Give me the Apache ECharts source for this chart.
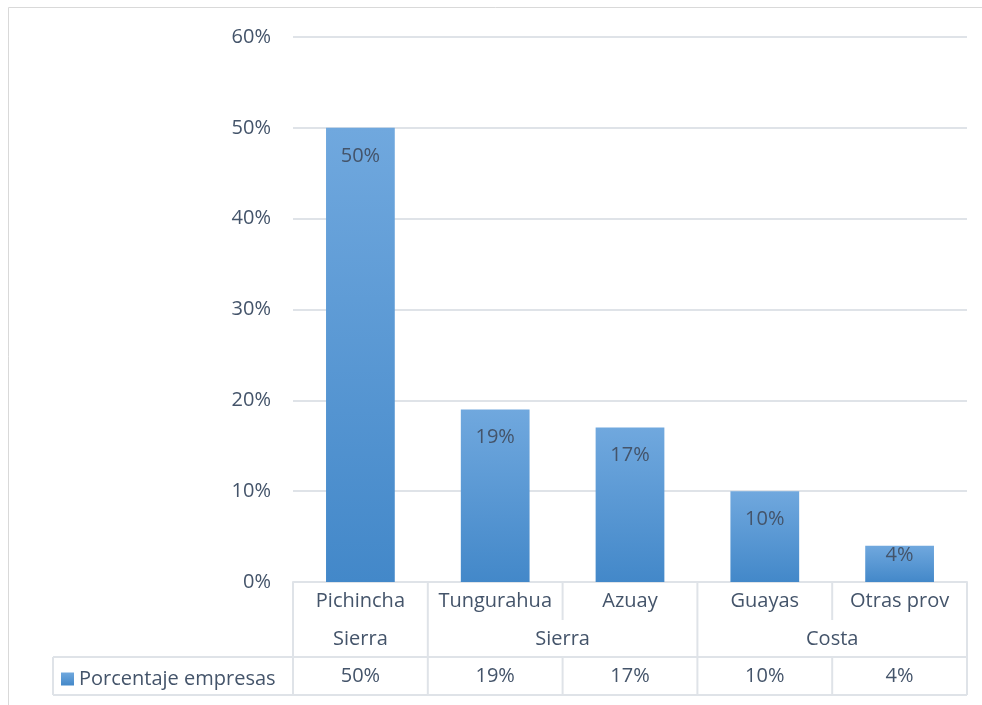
<!DOCTYPE html>
<html><head><meta charset="utf-8">
<script src="https://cdn.jsdelivr.net/npm/echarts@6/dist/echarts.min.js"></script>
<style>html,body{margin:0;padding:0;background:#fff}#c{width:982px;height:705px}</style>
</head><body><div id="c"></div>
<script>
const provinces = ['Pichincha', 'Tungurahua', 'Azuay', 'Guayas', 'Otras prov'];
const regionLabels = ['Sierra', 'Sierra', 'Costa'];
const regionSpans = [1, 2, 2];
const values = [50, 19, 17, 10, 4];
const seriesName = 'Porcentaje empresas';
const yTickValues = [0, 10, 20, 30, 40, 50, 60];

const FONT = 'Open Sans';
const TXT = '#44546a';
const LINE = '#dfe3e8';
const FS = 20;

const chart = echarts.init(document.getElementById('c'), null, {renderer: 'canvas'});
chart.setOption({
  animation: false,
  textStyle: {fontFamily: FONT},
  grid: {left: 293, right: 15, top: 37, bottom: 123},
  legend: {
    data: [seriesName], left: 56, top: 664, itemWidth: 13, itemHeight: 13, itemGap: 5,
    icon: 'rect', textStyle: {fontSize: FS, color: TXT, fontFamily: FONT}
  },
  xAxis: {
    type: 'category', data: provinces,
    axisLine: {show: true, lineStyle: {color: LINE, width: 2}},
    axisTick: {show: false},
    axisLabel: {fontSize: FS, color: TXT, margin: 9, fontFamily: FONT, interval: 0, hideOverlap: false}
  },
  yAxis: {
    type: 'value', min: yTickValues[0], max: yTickValues[yTickValues.length - 1], interval: 10,
    axisLine: {show: false}, axisTick: {show: false},
    splitLine: {lineStyle: {color: LINE, width: 2}},
    axisLabel: {fontSize: FS, color: TXT, margin: 22, formatter: '{value}%', fontFamily: FONT}
  },
  series: [{
    name: seriesName, type: 'bar', barWidth: '51%',
    itemStyle: {color: new echarts.graphic.LinearGradient(0, 0, 0, 1, [
      {offset: 0, color: '#70a8de'}, {offset: 1, color: '#4388c9'}])},
    label: {show: true, position: 'insideTop', distance: 18, formatter: '{c}%',
      fontSize: FS, color: TXT, fontFamily: FONT},
    data: values.map(v => v < 8 ? {value: v, label: {distance: 0}} : v)
  }]
});

// data table built from axis scale
const c0 = chart.convertToPixel({xAxisIndex: 0}, 0);
const c1 = chart.convertToPixel({xAxisIndex: 0}, 1);
const bw = c1 - c0;
const bounds = provinces.map((p, i) => chart.convertToPixel({xAxisIndex: 0}, i) - bw / 2);
bounds.push(bounds[bounds.length - 1] + bw);
const y0 = chart.convertToPixel({yAxisIndex: 0}, 0);
const r1 = y0 + 38, r2 = y0 + 75, r3 = y0 + 113;
const tableLeft = 53;

const g = [];
function ln(x1, y1, x2, y2) {
  g.push({type: 'line', shape: {x1, y1, x2, y2}, style: {stroke: LINE, lineWidth: 2}, silent: true});
}
const groupBounds = new Set([0]);
let acc = 0;
regionSpans.forEach(s => { acc += s; groupBounds.add(acc); });
bounds.forEach((x, i) => {
  if (groupBounds.has(i)) ln(x, y0, x, r3);
  else { ln(x, y0, x, r1); ln(x, r2, x, r3); }
});
ln(tableLeft, r2, bounds[bounds.length - 1], r2);
ln(tableLeft, r3, bounds[bounds.length - 1], r3);
ln(tableLeft, r2, tableLeft, r3);

acc = 0;
regionLabels.forEach((lab, k) => {
  const xs = bounds[acc], xe = bounds[acc + regionSpans[k]];
  acc += regionSpans[k];
  g.push({type: 'text', x: (xs + xe) / 2, y: (r1 + r2) / 2 + 1,
    style: {text: lab, fill: TXT, font: FS + 'px "' + FONT + '"', textAlign: 'center', textVerticalAlign: 'middle'}});
});
values.forEach((v, i) => {
  g.push({type: 'text', x: (bounds[i] + bounds[i + 1]) / 2, y: (r2 + r3) / 2,
    style: {text: v + '%', fill: TXT, font: FS + 'px "' + FONT + '"', textAlign: 'center', textVerticalAlign: 'middle'}});
});
g.push({type: 'rect', shape: {x: 8.5, y: 7.5, width: 1000, height: 800},
  style: {fill: null, stroke: '#d9d9d9', lineWidth: 1}, silent: true, z: -1});
chart.setOption({graphic: g});
</script>
</body></html>
